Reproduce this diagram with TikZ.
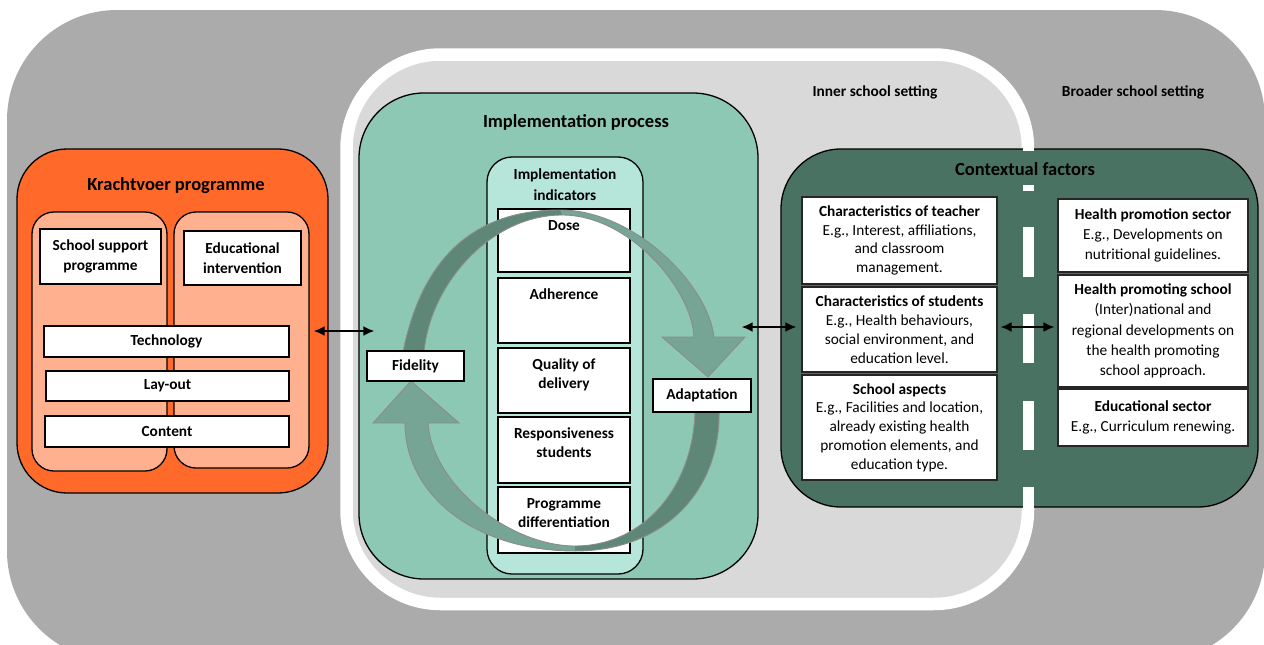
\documentclass[tikz,border=0pt]{standalone}
\usepackage{fontspec}
\setmainfont{Carlito}
\usetikzlibrary{arrows.meta}
\definecolor{bggray}{HTML}{ABABAB}
\definecolor{innergray}{HTML}{D9D9D9}
\definecolor{kvorange}{HTML}{FF6A2A}
\definecolor{kvsalmon}{HTML}{FFB18F}
\definecolor{ipteal}{HTML}{8DC8B5}
\definecolor{ipmint}{HTML}{B6E6D9}
\definecolor{cfgreen}{HTML}{4A7262}
\definecolor{arrdark}{HTML}{5E8777}
\definecolor{arrlight}{HTML}{76A595}
\begin{document}
\begin{tikzpicture}[x=1pt, y=-1pt,
  panel/.style={draw=black, line width=1.3pt},
  ttl/.style={font=\fontsize{18.5}{22}\selectfont\bfseries},
  hdr/.style={font=\fontsize{15.35}{21}\selectfont\bfseries, align=center},
  wbox/.style={draw=black, fill=white, line width=1.1pt, inner sep=0pt, align=center, font=\fontsize{15.35}{20}\selectfont\bfseries},
  indlbl/.style={anchor=north, yshift=-9.5pt, align=center, inner sep=2pt, font=\fontsize{15.35}{19}\selectfont\bfseries},
  cbox/.style={draw=black!85, fill=white, line width=1.1pt, inner sep=0pt, align=center, font=\fontsize{15.35}{18.8}\selectfont},
  rbox/.style={cbox, font=\fontsize{15.35}{20.3}\selectfont},
  link/.style={{Latex[length=11pt,width=10pt]}-{Latex[length=11pt,width=10pt]}, line width=1.9pt},
  arrline/.style={draw=black!45, line width=0.9pt}
]
\useasboundingbox (0,0) rectangle (1264,645);
\begin{scope}
  \clip (0,0) rectangle (1264,645);
  \fill[bggray, rounded corners=110pt] (7,10) rectangle (1265,661);
\end{scope}
\draw[white, line width=12.5pt, fill=innergray, rounded corners=94pt] (346.5,54.5) rectangle (1028,604);
\node[hdr] (innerset) at (875,92) {Inner school setting};
\node[hdr] (broadset) at (1133,92) {Broader school setting};

\node[panel, fill=kvorange, rounded corners=50pt, minimum width=311pt, minimum height=344pt] (krachtvoer) at (172.5,321) {};
\node[ttl] (kvtitle) at (176,186) {Krachtvoer programme};
\node[panel, fill=kvsalmon, rounded corners=22pt, minimum width=135pt, minimum height=259pt] (supportpane) at (99.5,341.5) {};
\node[panel, fill=kvsalmon, rounded corners=22pt, minimum width=135pt, minimum height=256pt] (eduPane) at (241.5,340) {};
\node[wbox, minimum width=121pt, minimum height=55pt] (support) at (100.5,256.5) {School support\\programme};
\node[wbox, minimum width=117pt, minimum height=54pt] (eduint) at (242.5,258) {Educational\\intervention};
\node[wbox, minimum width=245pt, minimum height=31pt] (tech) at (166.5,341.5) {Technology};
\node[wbox, minimum width=243pt, minimum height=30pt] (layout) at (167.5,386) {Lay-out};
\node[wbox, minimum width=244pt, minimum height=31pt] (content) at (167,431.5) {Content};

\node[panel, fill=ipteal, rounded corners=65pt, minimum width=399pt, minimum height=486pt] (process) at (558.5,336) {};
\node[ttl] (iptitle) at (576,122) {Implementation process};
\node[panel, fill=ipmint, rounded corners=25pt, minimum width=156pt, minimum height=417pt] (indicators) at (565,365.5) {};
\node[hdr] (indtitle) at (565,185) {Implementation\\indicators};
\node[wbox, minimum width=132pt, minimum height=63pt, label={[indlbl]north:Dose}] (dose) at (564,240.5) {};
\node[wbox, minimum width=132pt, minimum height=65pt, label={[indlbl]north:Adherence}] (adherence) at (564,310.5) {};
\node[wbox, minimum width=132pt, minimum height=65pt, label={[indlbl]north:{Quality of\\delivery}}] (quality) at (564,380.5) {};
\node[wbox, minimum width=132pt, minimum height=66pt, label={[indlbl]north:{Responsiveness\\students}}] (respons) at (564,450) {};
\node[wbox, minimum width=132pt, minimum height=66pt, label={[indlbl]north:{Programme\\differentiation}}] (differ) at (564,520) {};

\fill[arrlight] (424,352) -- (403,352) .. controls (420,268) and (465,210) .. (560,210) .. controls (635,210) and (708,285) .. (714,337) -- (745,337) -- (708,377) -- (662,337) -- (694,337) .. controls (692,290) and (630,215) .. (562,215) .. controls (490,215) and (430,285) .. (424,352) -- cycle;
\fill[arrdark] (424,352) -- (403,352) .. controls (420,268) and (465,210) .. (560,210) -- (562,215) .. controls (490,215) and (430,285) .. (424,352) -- cycle;
\draw[arrline] (424,352) -- (403,352) .. controls (420,268) and (465,210) .. (560,210) .. controls (635,210) and (708,285) .. (714,337) -- (745,337) -- (708,377) -- (662,337) -- (694,337) .. controls (692,290) and (630,215) .. (562,215) .. controls (490,215) and (430,285) .. (424,352) -- cycle;

\fill[arrlight] (695,410) -- (719,410) .. controls (721,490) and (665,551) .. (575,551) .. controls (475,551) and (405,495) .. (405,423) -- (373,423) -- (411,381) -- (459,423) -- (428,423) .. controls (432,485) and (510,546) .. (575,546) .. controls (645,546) and (694,485) .. (695,410) -- cycle;
\fill[arrdark] (695,410) -- (719,410) .. controls (721,490) and (665,551) .. (575,551) -- (575,546) .. controls (645,546) and (694,485) .. (695,410) -- cycle;
\draw[arrline] (695,410) -- (719,410) .. controls (721,490) and (665,551) .. (575,551) .. controls (475,551) and (405,495) .. (405,423) -- (373,423) -- (411,381) -- (459,423) -- (428,423) .. controls (432,485) and (510,546) .. (575,546) .. controls (645,546) and (694,485) .. (695,410) -- cycle;

\node[wbox, minimum width=97pt, minimum height=30pt] (fidelity) at (415.5,366) {Fidelity};
\node[wbox, minimum width=98pt, minimum height=33pt] (adaptation) at (702,395.5) {Adaptation};

\node[panel, fill=cfgreen, rounded corners=60pt, minimum width=477pt, minimum height=358pt] (context) at (1019.5,328) {};
\node[ttl] (cftitle) at (1025,169) {Contextual factors};
\fill[white] (1022.5,144) rectangle (1034,151);
\fill[white] (1022.5,185) rectangle (1034,191);
\fill[white] (1022.5,227) rectangle (1034,277);
\fill[white] (1022.5,314) rectangle (1034,363);
\fill[white] (1022.5,401) rectangle (1034,450);
\fill[white] (1022.5,487) rectangle (1034,512);

\node[cbox, minimum width=195pt, minimum height=87pt] (teacher) at (899.5,240.5) {\textbf{Characteristics of teacher}\\E.g., Interest, affiliations,\\and classroom\\management.};
\node[cbox, minimum width=195pt, minimum height=85pt] (students) at (899.5,329.5) {\textbf{Characteristics of students}\\E.g., Health behaviours,\\social environment, and\\education level.};
\node[cbox, minimum width=195pt, minimum height=105pt] (schoolasp) at (899.5,427.5) {\textbf{School aspects}\\E.g., Facilities and location,\\already existing health\\promotion elements, and\\education type.};
\node[rbox, minimum width=190pt, minimum height=73pt] (hpsector) at (1153,235.5) {\textbf{Health promotion sector}\\E.g., Developments on\\nutritional guidelines.};
\node[rbox, minimum width=190pt, minimum height=112pt] (hpschool) at (1153,331) {\textbf{Health promoting school}\\(Inter)national and\\regional developments on\\the health promoting\\school approach.};
\node[rbox, minimum width=190pt, minimum height=57pt] (edsector) at (1153,417.5) {\textbf{Educational sector}\\E.g., Curriculum renewing.};

\draw[link] ([shift={(-15,10)}]krachtvoer.east) -- ([shift={(16,-5)}]process.west);
\draw[link] ([shift={(-17,-9)}]process.east) -- ([shift={(16,-1)}]context.west);
\draw[link] ([shift={(3,-2.5)}]students.east) -- ([shift={(-3,-4)}]hpschool.west);
\end{tikzpicture}
\end{document}
